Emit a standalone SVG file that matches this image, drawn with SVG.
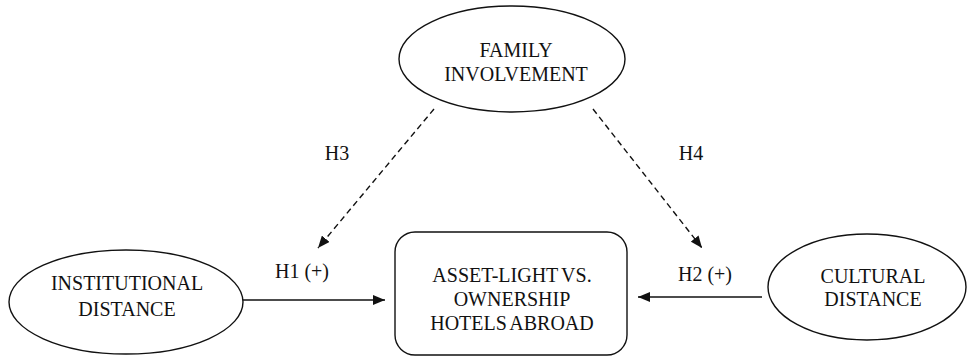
<svg xmlns="http://www.w3.org/2000/svg" width="969" height="357" viewBox="0 0 969 357">
<defs>
<marker id="ah" viewBox="0 0 12 10" refX="12" refY="5" markerWidth="12" markerHeight="10" markerUnits="userSpaceOnUse" orient="auto">
<path d="M0,0 L12,5 L0,10 Z" fill="#111"/>
</marker>
</defs>
<style>
.n{fill:#fff;stroke:#111;stroke-width:1.4}
.t{font-family:"Liberation Serif","DejaVu Serif",serif;font-size:20px;fill:#111;text-anchor:middle}
.c{stroke:#111;stroke-width:1.4;fill:none}
.d{stroke-dasharray:6,4}
.tight{word-spacing:-1.5px}
</style>
<rect width="969" height="357" fill="#fff"/>
<g id="family">
<ellipse class="n" cx="512" cy="59" rx="113" ry="53"/>
<text class="t" x="516" y="57">FAMILY</text>
<text class="t" x="516" y="81">INVOLVEMENT</text>
</g>
<g id="institutional">
<ellipse class="n" cx="126" cy="302" rx="117" ry="52"/>
<text class="t" x="127" y="290">INSTITUTIONAL</text>
<text class="t" x="127" y="316">DISTANCE</text>
</g>
<g id="outcome">
<rect class="n" x="395" y="232" width="232" height="123" rx="20"/>
<text class="t tight" x="512" y="282">ASSET-LIGHT VS.</text>
<text class="t" x="512" y="306">OWNERSHIP</text>
<text class="t tight" x="512" y="330">HOTELS ABROAD</text>
</g>
<g id="cultural">
<ellipse class="n" cx="867" cy="287" rx="99" ry="53"/>
<text class="t" x="873" y="283">CULTURAL</text>
<text class="t" x="873" y="306">DISTANCE</text>
</g>
<g id="connectors">
<line class="c" x1="243" y1="300" x2="385" y2="300" marker-end="url(#ah)"/>
<line class="c" x1="762" y1="297" x2="638" y2="297" marker-end="url(#ah)"/>
<line class="c d" x1="434" y1="109" x2="318" y2="248" marker-end="url(#ah)"/>
<line class="c d" x1="593" y1="109" x2="702" y2="248" marker-end="url(#ah)"/>
<text class="t" x="302" y="278">H1 (+)</text>
<text class="t" x="705" y="281">H2 (+)</text>
<text class="t" x="337" y="160">H3</text>
<text class="t" x="691" y="160">H4</text>
</g>
</svg>
